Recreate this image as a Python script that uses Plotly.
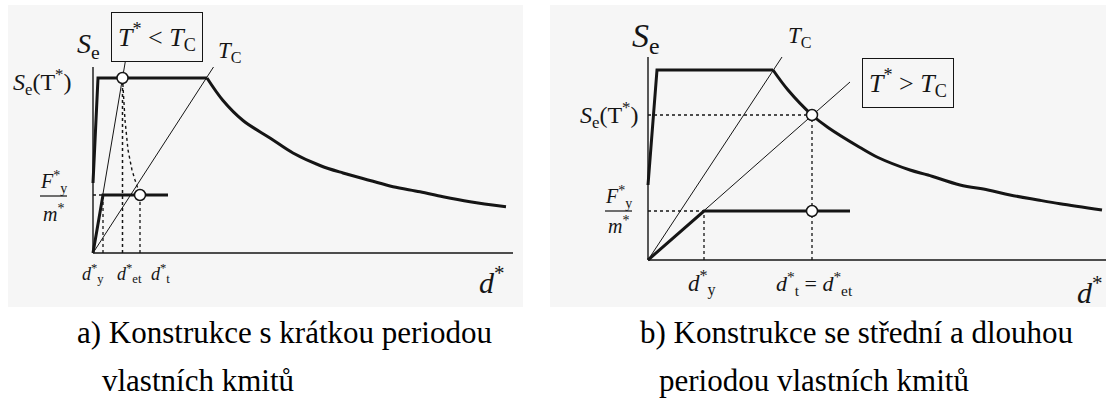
import plotly.graph_objects as go

INK = "#151515"
SERIF = "Liberation Serif, Times New Roman, serif"

# ---------- panel a: short-period structure (T* < T_C) ----------
# elastic spectrum: initial rise and constant-acceleration plateau
a_rise_d = [0.0, 0.5, 11.4]
a_rise_se = [2.8, 7.0, 7.0]
# constant-velocity branch
a_branch_d = [11.4, 13.0, 15.0, 17.7, 20.0, 22.7, 25.0, 27.7, 30.0, 32.7, 35.0, 37.7, 41.3]
a_branch_se = [7.0, 6.1, 5.3, 4.6, 4.0, 3.5, 3.2, 2.9, 2.65, 2.45, 2.25, 2.05, 1.85]
# bilinear capacity curve
a_dy, a_fy, a_cap_end = 1.0, 2.32, 7.5
# target points
a_det, a_se_t, a_dt = 2.95, 7.0, 4.7
# radial period lines (upper ends)
a_tc_d, a_tc_se = 12.05, 7.44
a_ts_d, a_ts_se = 3.24, 7.68
# dotted transition from d_et to d_t
a_tr_d = [2.95, 3.2, 3.5, 3.9, 4.2, 4.7]
a_tr_se = [7.0, 5.32, 4.12, 3.32, 2.92, 2.32]
a_axis_x, a_axis_y = 42.0, 7.44

# ---------- panel b: medium/long-period structure (T* > T_C) ----------
b_rise_d = [0.0, 0.9, 12.5]
b_rise_se = [3.0, 7.6, 7.6]
b_branch_d = [12.5, 14.0, 16.4, 18.0, 21.2, 23.0, 26.2, 28.0, 31.2, 34.0, 36.2, 39.0, 41.2, 45.4]
b_branch_se = [7.6, 6.8, 5.8, 5.3, 4.5, 4.1, 3.6, 3.4, 3.0, 2.8, 2.6, 2.4, 2.25, 2.0]
b_dy, b_fy, b_cap_end = 5.6, 1.96, 20.2
b_dt, b_se_t = 16.4, 5.8
b_tc_d, b_tc_se = 13.4, 8.12
b_ts_d, b_ts_se = 20.2, 7.12
b_axis_x, b_axis_y = 45.8, 8.12

fig = go.Figure()


def line(x, y, xa, ya, width=1.0, dash=None, shape="linear"):
    fig.add_trace(go.Scatter(
        x=x, y=y, mode="lines", xaxis=xa, yaxis=ya, hoverinfo="skip",
        line=dict(color=INK, width=width, dash=dash, shape=shape),
    ))


def dots(x, y, xa, ya):
    fig.add_trace(go.Scatter(
        x=x, y=y, mode="markers", xaxis=xa, yaxis=ya, hoverinfo="skip", cliponaxis=False,
        marker=dict(symbol="circle", size=11, color="white", line=dict(color=INK, width=1.5)),
    ))


# panel a
xa, ya = "x", "y"
line([0, a_axis_x], [0, 0], xa, ya, 1.4)
line([0, 0], [0, a_axis_y], xa, ya, 1.4)
line([0, a_tc_d], [0, a_tc_se], xa, ya, 1.0)
line([0, a_ts_d], [0, a_ts_se], xa, ya, 1.0)
line([0, a_dy], [a_fy, a_fy], xa, ya, 1.3, "dot")
line([a_dy, a_dy], [0, a_fy], xa, ya, 1.3, "dot")
line([a_det, a_det], [0, a_se_t], xa, ya, 1.5, "dot")
line([a_dt, a_dt], [0, a_fy], xa, ya, 1.3, "dot")
line(a_tr_d, a_tr_se, xa, ya, 1.4, "dot")
line(a_rise_d, a_rise_se, xa, ya, 3.0)
line(a_branch_d, a_branch_se, xa, ya, 3.0, shape="spline")
line([0, a_dy, a_cap_end], [0, a_fy, a_fy], xa, ya, 3.0)
dots([a_det, a_dt], [a_se_t, a_fy], xa, ya)

# panel b
xa, ya = "x2", "y2"
line([0, b_axis_x], [0, 0], xa, ya, 1.4)
line([0, 0], [0, b_axis_y], xa, ya, 1.4)
line([0, b_tc_d], [0, b_tc_se], xa, ya, 1.0)
line([0, b_ts_d], [0, b_ts_se], xa, ya, 1.0)
line([0, b_dy], [b_fy, b_fy], xa, ya, 1.3, "dot")
line([b_dy, b_dy], [0, b_fy], xa, ya, 1.3, "dot")
line([0, b_dt], [b_se_t, b_se_t], xa, ya, 1.3, "dot")
line([b_dt, b_dt], [0, b_se_t], xa, ya, 1.3, "dot")
line(b_rise_d, b_rise_se, xa, ya, 3.0)
line(b_branch_d, b_branch_se, xa, ya, 3.0, shape="spline")
line([0, b_dy, b_cap_end], [0, b_fy, b_fy], xa, ya, 3.0)
dots([b_dt, b_dt], [b_se_t, b_fy], xa, ya)


def label(text, x, y, xr, yr, size, box=False, xanchor="center"):
    extra = dict(bordercolor=INK, borderwidth=1, borderpad=6) if box else {}
    fig.add_annotation(text=text, x=x, y=y, xref=xr, yref=yr, showarrow=False,
                       xanchor=xanchor, yanchor="middle",
                       font=dict(family=SERIF, size=size, color=INK), **extra)


# panel a labels
label("<i>S</i><sub>e</sub>", -0.5, 8.32, "x", "y", 28)
label("<i>T</i><sup>*</sup> &lt; <i>T</i><sub>C</sub>", 6.4, 8.64, "x", "y", 26, box=True)
label("<i>T</i><sub>C</sub>", 13.7, 8.04, "x", "y", 23)
label("<i>S</i><sub>e</sub>(T<sup>*</sup>)", -5.1, 6.84, "x", "y", 24)
label("<i>F</i><sup>*</sup><sub>y</sub>", -4.0, 2.84, "x", "y", 20)
label("<i>m</i><sup>*</sup>", -4.0, 1.62, "x", "y", 20)
label("<i>d</i><sup>*</sup><sub>y</sub>", 0.0, -0.8, "x", "y", 18)
label("<i>d</i><sup>*</sup><sub>et</sub>", 3.6, -0.8, "x", "y", 18)
label("<i>d</i><sup>*</sup><sub>t</sub>", 6.7, -0.8, "x", "y", 18)
label("<i>d</i><sup>*</sup>", 39.9, -1.08, "x", "y", 30)

# panel b labels
label("<i>S</i><sub>e</sub>", -0.2, 8.88, "x2", "y2", 34)
label("<i>T</i><sub>C</sub>", 15.2, 8.92, "x2", "y2", 23)
label("<i>T</i><sup>*</sup> &gt; <i>T</i><sub>C</sub>", 26.0, 7.08, "x2", "y2", 26, box=True)
label("<i>S</i><sub>e</sub>(T<sup>*</sup>)", -3.9, 5.8, "x2", "y2", 24)
label("<i>F</i><sup>*</sup><sub>y</sub>", -3.0, 2.52, "x2", "y2", 20)
label("<i>m</i><sup>*</sup>", -3.0, 1.42, "x2", "y2", 20)
label("<i>d</i><sup>*</sup><sub>y</sub>", 5.4, -0.92, "x2", "y2", 23)
label("<i>d</i><sup>*</sup><sub>t</sub> = <i>d</i><sup>*</sup><sub>et</sub>", 16.6, -0.92, "x2", "y2", 22)
label("<i>d</i><sup>*</sup>", 44.2, -1.2, "x2", "y2", 30)

# fraction bars
fig.add_shape(type="line", xref="x", yref="y", x0=-5.3, x1=-2.6, y0=2.28, y1=2.28,
              line=dict(color=INK, width=1.2))
fig.add_shape(type="line", xref="x2", yref="y2", x0=-4.3, x1=-1.6, y0=1.96, y1=1.96,
              line=dict(color=INK, width=1.2))

# panel backgrounds
W, H = 1110, 419
for x0, x1 in [(8, 523), (550, 1106)]:
    fig.add_shape(type="rect", xref="paper", yref="paper", layer="below",
                  x0=x0 / W, x1=x1 / W, y0=1 - 307 / H, y1=1 - 5 / H,
                  fillcolor="#f6f6f6", line=dict(width=0))

# captions
caps = [
    ("a) Konstrukce s krátkou periodou", 75, 332),
    ("vlastních kmitů", 100, 380),
    ("b) Konstrukce se střední a dlouhou", 638, 332),
    ("periodou vlastních kmitů", 657, 380),
]
for text, px, py in caps:
    fig.add_annotation(text=text, x=px / W, y=1 - py / H, xref="paper", yref="paper",
                       showarrow=False, xanchor="left", yanchor="middle",
                       font=dict(family=SERIF, size=31, color="#000"))

hidden = dict(visible=False, fixedrange=True)
fig.update_layout(
    width=W, height=H, autosize=False,
    margin=dict(l=0, r=0, t=0, b=0),
    paper_bgcolor="white", plot_bgcolor="rgba(0,0,0,0)",
    showlegend=False,
    xaxis=dict(domain=[0, 0.5], range=[-9.3, 46.2], **hidden),
    yaxis=dict(domain=[0, 1], range=[-6.64, 10.12], **hidden),
    xaxis2=dict(domain=[0.5, 1], range=[-9.3, 46.2], anchor="y2", **hidden),
    yaxis2=dict(domain=[0, 1], range=[-6.36, 10.4], anchor="x2", **hidden),
)

fig.write_html("out.html")
